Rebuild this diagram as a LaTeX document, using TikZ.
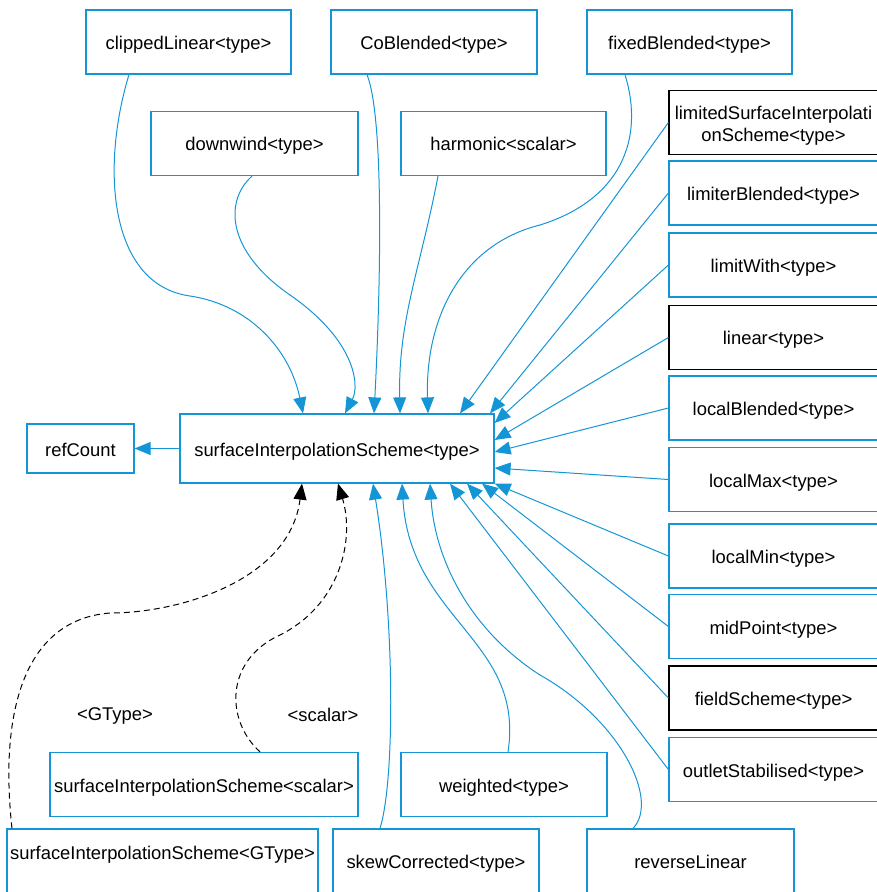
\documentclass[tikz,border=0pt]{standalone}
\usepackage{fontspec}
\setmainfont{Liberation Sans}
\definecolor{LinkBlue}{RGB}{20, 150, 214}
\usetikzlibrary{arrows.meta}

\begin{document}
\begin{tikzpicture}[
    x=0.5pt, y=-0.5pt,
    every node/.style={font=\fontsize{9.2}{11}\selectfont, align=center, inner sep=1pt},
    cls/.style={draw=LinkBlue, line width=0.6pt, rectangle, minimum width=#1, minimum height=32pt, text height=8.5pt, text depth=1pt},
    cls/.default=104.5pt,
    clsblack/.style={cls, draw=black},
    inh/.style={LinkBlue, line width=0.5pt, -{Triangle[length=8pt, width=6.5pt]}},
    tmpl/.style={black, line width=0.5pt, dash pattern=on 3pt off 2pt, -{Triangle[length=8pt, width=6.5pt]}}
]
\useasboundingbox (0,0) rectangle (876,892);
\node[cls=102.5pt] (clip) at (188.5,42) {clippedLinear<type>};
\node[cls=103pt] (coblend) at (434,42) {CoBlended<type>};
\node[cls=102.5pt] (fixblend) at (689.5,42) {fixedBlended<type>};
\node[cls=103.5pt] (down) at (254.5,143.5) {downwind<type>};
\node[cls=102.5pt] (harm) at (503.5,143.5) {harmonic<scalar>};
\node[clsblack, text height=20pt] (limsurf) at (773.5,122.5) {limitedSurfaceInterpolati\\onScheme<type>};
\node[cls] (limblend) at (773.5,193) {limiterBlended<type>};
\node[cls] (limwith) at (773.5,265) {limitWith<type>};
\node[clsblack] (lin) at (773.5,337.5) {linear<type>};
\node[cls] (locblend) at (773.5,408) {localBlended<type>};
\node[cls] (locmax) at (773.5,479.5) {localMax<type>};
\node[cls] (locmin) at (773.5,556) {localMin<type>};
\node[cls] (mid) at (773.5,626.5) {midPoint<type>};
\node[clsblack] (field) at (773.5,698) {fieldScheme<type>};
\node[cls] (outlet) at (773.5,769.5) {outletStabilised<type>};
\node[cls=157pt, minimum height=34.5pt] (sis) at (337,448.5) {surfaceInterpolationScheme<type>};
\node[cls=53.5pt, minimum height=24.5pt] (ref) at (80.5,448.5) {refCount};
\node[cls=154pt] (sisscalar) at (204,784.5) {surfaceInterpolationScheme<scalar>};
\node[cls=155.5pt, text depth=10pt] (sisgtype) at (162.5,861) {surfaceInterpolationScheme<GType>};
\node[cls=103pt] (skew) at (436,861) {skewCorrected<type>};
\node[cls=103pt] (wt) at (504,784.5) {weighted<type>};
\node[cls=103.5pt] (revlin) at (690.5,861) {reverseLinear};
\node (lblgtype) at (115,716) {<GType>};
\node (lblscalar) at (323,715) {<scalar>};

\draw[inh] (sis) -- (ref);
\draw[inh] (129,0 |- clip.south) .. controls (100,170) and (110,285) .. (190,296) .. controls (250,305) and (290,350) .. (303,0 |- sis.north);
\draw[inh] (252,0 |- down.south) .. controls (225,200) and (225,250) .. (290,295) .. controls (355,340) and (360,385) .. (345,0 |- sis.north);
\draw[inh] (367,0 |- coblend.south) .. controls (385,120) and (380,300) .. (374,0 |- sis.north);
\draw[inh] (438,0 |- harm.south) .. controls (420,270) and (398,320) .. (400,0 |- sis.north);
\draw[inh] (625,0 |- fixblend.south) .. controls (645,140) and (620,200) .. (540,225) .. controls (460,245) and (425,320) .. (428,0 |- sis.north);
\draw[inh] (limsurf.west) -- (460,0 |- sis.north);
\draw[inh] (limblend.west) -- (490,0 |- sis.north);
\draw[inh] (limwith.west) -- (sis.east |- 0,423);
\draw[inh] (lin.west) -- (sis.east |- 0,440);
\draw[inh] (locblend.west) -- (sis.east |- 0,452);
\draw[inh] (locmax.west) -- (sis.east |- 0,468);
\draw[inh] (locmin.west) -- (sis.south east);
\draw[inh] (mid.west) -- (482,0 |- sis.south);
\draw[inh] (field.west) -- (467,0 |- sis.south);
\draw[inh] (outlet.west) -- (450,0 |- sis.south);
\draw[inh] (633,0 |- revlin.north) .. controls (660,800) and (620,720) .. (540,675) .. controls (470,630) and (435,560) .. (430,0 |- sis.south);
\draw[inh] (508,0 |- wt.north) .. controls (525,640) and (410,620) .. (402,0 |- sis.south);
\draw[inh] (380,0 |- skew.north) .. controls (395,780) and (395,620) .. (373,0 |- sis.south);
\draw[tmpl] (260,0 |- sisscalar.north) .. controls (225,720) and (225,660) .. (280,635) .. controls (340,605) and (355,540) .. (338,0 |- sis.south);
\draw[tmpl] (12,0 |- sisgtype.north) .. controls (0,720) and (20,620) .. (110,613) .. controls (180,613) and (290,580) .. (302,0 |- sis.south);
\end{tikzpicture}
\end{document}
